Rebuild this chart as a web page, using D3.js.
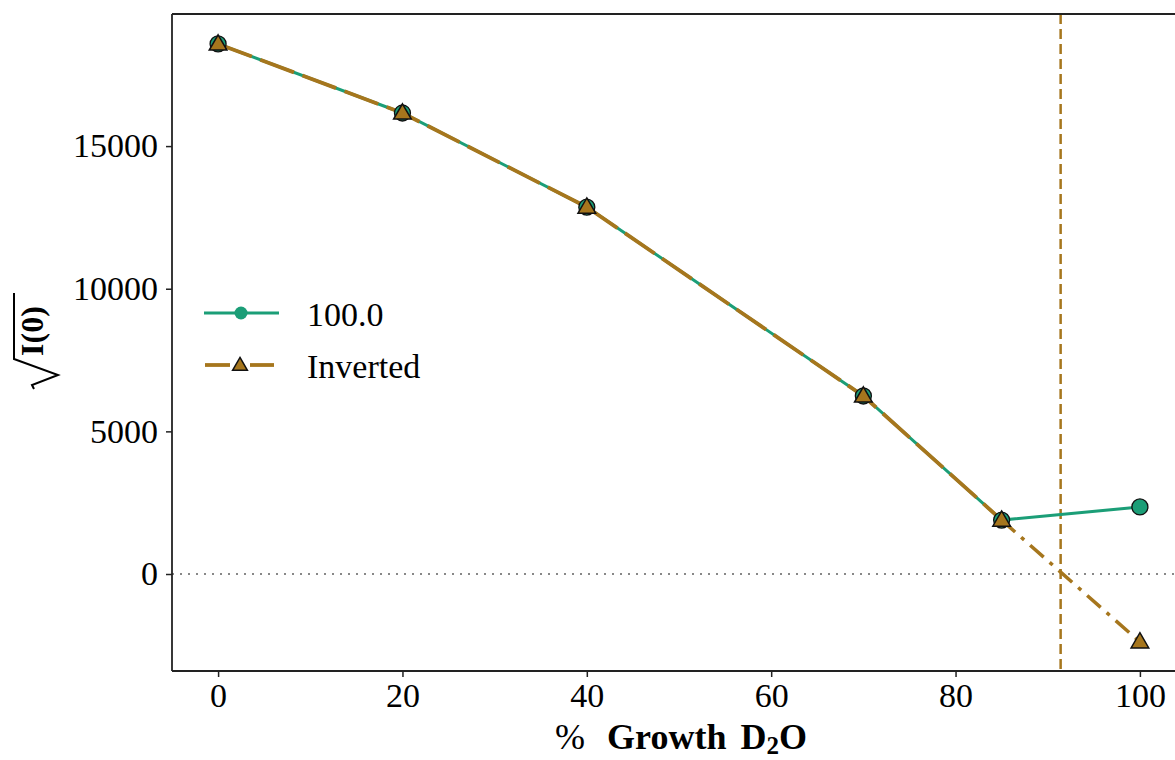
<!DOCTYPE html>
<html>
<head>
<meta charset="utf-8">
<script src="https://cdn.jsdelivr.net/npm/d3@7"></script>
<style>
  html, body { margin: 0; padding: 0; background: #fff; overflow: hidden; }
  svg { display: block; }
  text { font-family: "Liberation Serif", "DejaVu Serif", serif; fill: #000; }
</style>
</head>
<body>
<svg id="chart" width="1175" height="760"></svg>
<script>
// ---- data ----
const growthD2O = [0, 20, 40, 70, 85, 100];
const series100 = [18580, 16160, 12860, 6240, 1890, 2350];
const seriesInverted = [18580, 16160, 12860, 6240, 1890, -2380];
const matchPoint = 91.4;
const xTicks = [0, 20, 40, 60, 80, 100];
const yTicks = [0, 5000, 10000, 15000];
const legendLabels = ["100.0", "Inverted"];

const teal = "#1b9e77";
const brown = "#a6761d";

const svg = d3.select("#chart");
const pL = 172, pR = 1186, pT = 14, pB = 671;

const x = d3.scaleLinear().domain([-5, 105]).range([pL, pR]);
const y = d3.scaleLinear().domain([-3400, 19630]).range([pB, pT]);

// zero line (dotted)
svg.append("line")
  .attr("x1", pL).attr("x2", pR)
  .attr("y1", y(0)).attr("y2", y(0))
  .attr("stroke", "#888").attr("stroke-width", 2)
  .attr("stroke-dasharray", "2,6");

// vertical match point line
svg.append("line")
  .attr("x1", x(matchPoint)).attr("x2", x(matchPoint))
  .attr("y1", pT).attr("y2", pB)
  .attr("stroke", brown).attr("stroke-width", 2.5)
  .attr("stroke-dasharray", "10,5");

const pts100 = growthD2O.map((g, i) => [g, series100[i]]);
const ptsInv = growthD2O.map((g, i) => [g, seriesInverted[i]]);
const line = d3.line().x(d => x(d[0])).y(d => y(d[1]));

// 100.0 series line
svg.append("path").datum(pts100)
  .attr("d", line).attr("fill", "none")
  .attr("stroke", teal).attr("stroke-width", 3);

// Inverted dashed (measured part)
svg.append("path").datum(ptsInv.slice(0, 5))
  .attr("d", line).attr("fill", "none")
  .attr("stroke", brown).attr("stroke-width", 3.8)
  .attr("stroke-dasharray", "36,9");

// Inverted extrapolated segment (dash-dot)
svg.append("path").datum(ptsInv.slice(4))
  .attr("d", line).attr("fill", "none")
  .attr("stroke", brown).attr("stroke-width", 3.5)
  .attr("stroke-dasharray", "18,8,4,8");

// markers
svg.selectAll("circle.m100").data(pts100).enter().append("circle")
  .attr("class", "m100")
  .attr("cx", d => x(d[0])).attr("cy", d => y(d[1]))
  .attr("r", 8).attr("fill", teal)
  .attr("stroke", "#111").attr("stroke-width", 1.3);

const tri = d3.symbol().type(d3.symbolTriangle).size(135);
svg.selectAll("path.mInv").data(ptsInv).enter().append("path")
  .attr("class", "mInv")
  .attr("d", tri)
  .attr("transform", d => `translate(${x(d[0])},${y(d[1]) + 1})`)
  .attr("fill", brown)
  .attr("stroke", "#111").attr("stroke-width", 1.5);

// axes spines
const spine = svg.append("g").attr("stroke", "#222").attr("stroke-width", 1.8);
spine.append("line").attr("x1", pL).attr("x2", pL).attr("y1", pT).attr("y2", pB);
spine.append("line").attr("x1", pL).attr("x2", pR).attr("y1", pB).attr("y2", pB);
spine.append("line").attr("x1", pL).attr("x2", pR).attr("y1", pT).attr("y2", pT);
spine.append("line").attr("x1", pR).attr("x2", pR).attr("y1", pT).attr("y2", pB);

// x axis
const xAxis = svg.append("g").attr("transform", `translate(0,${pB})`)
  .call(d3.axisBottom(x).tickValues(xTicks).tickSize(6).tickPadding(6).tickFormat(d3.format("d")));
xAxis.select(".domain").remove();
xAxis.selectAll(".tick line").attr("stroke", "#222").attr("stroke-width", 1.5);
xAxis.selectAll(".tick text").attr("font-size", 34)
  .attr("font-family", "Liberation Serif").attr("fill", "#000");

// y axis
const yAxis = svg.append("g").attr("transform", `translate(${pL},0)`)
  .call(d3.axisLeft(y).tickValues(yTicks).tickSize(6).tickPadding(8).tickFormat(d3.format("d")));
yAxis.select(".domain").remove();
yAxis.selectAll(".tick line").attr("stroke", "#222").attr("stroke-width", 1.5);
yAxis.selectAll(".tick text").attr("font-size", 34)
  .attr("font-family", "Liberation Serif").attr("fill", "#000");

// x label
const xl = svg.append("text")
  .attr("x", 681).attr("y", 749)
  .attr("text-anchor", "middle")
  .attr("font-size", 36);
xl.append("tspan").text("%");
xl.append("tspan").attr("dx", 22).attr("font-weight", "bold").text("Growth");
xl.append("tspan").attr("dx", 14).attr("font-weight", "bold").text("D");
xl.append("tspan").attr("font-weight", "bold").attr("font-size", 25).attr("dy", 5).text("2");
xl.append("tspan").attr("font-weight", "bold").attr("dy", -5).text("O");

// y label (sqrt I(0))
const yl = svg.append("g").attr("transform", "translate(43,331) rotate(-90)");
yl.append("text").attr("x", 0).attr("y", 0)
  .attr("text-anchor", "middle").attr("font-weight", "bold").attr("font-size", 32)
  .text("I(0)");
yl.append("path")
  .attr("d", "M-58,-9 L-54,-11 L-44,15 L-28,-29 L38,-29")
  .attr("fill", "none").attr("stroke", "#000").attr("stroke-width", 2)
  .attr("stroke-linejoin", "miter");

// legend
const lg = svg.append("g");
lg.append("line").attr("x1", 204).attr("x2", 279).attr("y1", 313).attr("y2", 313)
  .attr("stroke", teal).attr("stroke-width", 3);
lg.append("circle").attr("cx", 241).attr("cy", 313).attr("r", 6.5).attr("fill", teal);
lg.append("line").attr("x1", 205).attr("x2", 230).attr("y1", 365).attr("y2", 365)
  .attr("stroke", brown).attr("stroke-width", 3.8);
lg.append("line").attr("x1", 250).attr("x2", 274).attr("y1", 365).attr("y2", 365)
  .attr("stroke", brown).attr("stroke-width", 3.8);
lg.append("path").attr("d", d3.symbol().type(d3.symbolTriangle).size(95))
  .attr("transform", "translate(240,366)")
  .attr("fill", brown).attr("stroke", "#111").attr("stroke-width", 1.5);
lg.selectAll("text.leg").data(legendLabels).enter().append("text")
  .attr("class", "leg")
  .attr("x", 307).attr("y", (d, i) => 326 + i * 52)
  .attr("font-size", 34)
  .text(d => d);
</script>
</body>
</html>
